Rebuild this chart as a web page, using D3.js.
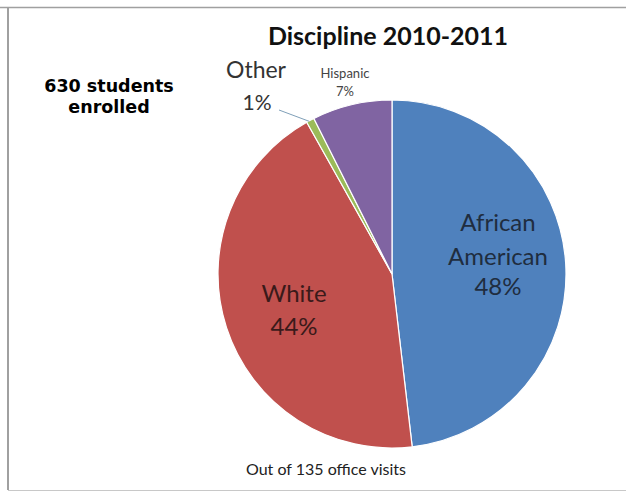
<!DOCTYPE html>
<html>
<head>
<meta charset="utf-8">
<script src="https://cdn.jsdelivr.net/npm/d3@7"></script>
<style>
  body { margin: 0; background: #fff; }
  svg text { font-family: Lato, "Open Sans", sans-serif; }
</style>
</head>
<body>
<div id="pieChart"></div>
<script>
// office visits by group, out of 135
var groups   = ["African American", "White", "Other", "Hispanic"];
var visits   = [65, 59, 1, 10];
var percents = ["48%", "44%", "1%", "7%"];
var colors   = ["#4f81bd", "#c0504d", "#9bbb59", "#8064a2"];

var width  = 626;
var height = 492;
var cx = 392, cy = 274, radius = 174;

var svg = d3.select('#pieChart')
            .append('svg')
            .attr('width', width)
            .attr('height', height);

// frame lines of the clipped screenshot
svg.append('line').attr('x1', 0).attr('x2', width).attr('y1', 7.5).attr('y2', 7.5)
   .attr('stroke', '#a0a0a0').attr('stroke-width', 1.5);
svg.append('line').attr('x1', 8).attr('x2', 8).attr('y1', 7).attr('y2', 490)
   .attr('stroke', '#a0a0a0').attr('stroke-width', 2);
svg.append('line').attr('x1', 8).attr('x2', width).attr('y1', 490.5).attr('y2', 490.5)
   .attr('stroke', '#c8c8c8').attr('stroke-width', 1);

var data = groups.map(function(g, i) {
  return { group: g, value: visits[i], pct: percents[i], color: colors[i] };
});

var pie = d3.pie()
            .sort(null)
            .value(function(d) { return d.value; });

var arc = d3.arc()
            .innerRadius(0)
            .outerRadius(radius);

var chartGroup = svg.append('g')
                    .attr('transform', 'translate(' + cx + ',' + cy + ')');

var arcs = pie(data);

chartGroup.selectAll('path')
          .data(arcs)
          .enter()
          .append('path')
          .attr('d', arc)
          .attr('fill', function(d) { return d.data.color; })
          .attr('stroke', '#fff')
          .attr('stroke-width', 1.2);

// labels inside the two big slices
var aaText = chartGroup.append('text')
  .attr('text-anchor', 'middle')
  .attr('font-size', 24)
  .attr('fill', '#1f2d3f');
[["African", 231], ["American", 265], ["48%", 295]].forEach(function(t) {
  aaText.append('tspan').attr('x', 498 - cx).attr('y', t[1] - cy).text(t[0]);
});

var whiteText = chartGroup.append('text')
  .attr('text-anchor', 'middle')
  .attr('font-size', 24)
  .attr('fill', '#3a1a1a');
[["White", 302], ["44%", 335]].forEach(function(t) {
  whiteText.append('tspan').attr('x', 294 - cx).attr('y', t[1] - cy).text(t[0]);
});

// outside labels for the small slices
var otherArc = arcs[2];
var edge = d3.arc().innerRadius(radius).outerRadius(radius).centroid(otherArc);
chartGroup.append('path')
  .attr('d', 'M' + (279 - cx) + ',' + (110 - cy) + ' L' + (edge[0] - 1) + ',' + (edge[1] + 1))
  .attr('stroke', '#7f9fb8')
  .attr('stroke-width', 1)
  .attr('fill', 'none');

svg.append('text')
   .attr('x', 256).attr('y', 78)
   .attr('text-anchor', 'middle')
   .attr('font-size', 23)
   .attr('fill', '#333')
   .text("Other");
svg.append('text')
   .attr('x', 257).attr('y', 110)
   .attr('text-anchor', 'middle')
   .attr('font-size', 21)
   .attr('fill', '#333')
   .text(percents[2]);

svg.append('text')
   .attr('x', 345).attr('y', 78)
   .attr('text-anchor', 'middle')
   .attr('font-size', 13)
   .attr('fill', '#444')
   .text("Hispanic");
svg.append('text')
   .attr('x', 345).attr('y', 96)
   .attr('text-anchor', 'middle')
   .attr('font-size', 13)
   .attr('fill', '#444')
   .text(percents[3]);

// title and notes
svg.append('text')
   .attr('x', 388).attr('y', 45)
   .attr('text-anchor', 'middle')
   .attr('font-size', 25)
   .attr('font-weight', 'bold')
   .attr('fill', '#111')
   .text("Discipline 2010-2011");

svg.append('text')
   .attr('x', 326).attr('y', 475)
   .attr('text-anchor', 'middle')
   .attr('font-size', 16)
   .attr('fill', '#222')
   .text("Out of 135 office visits");

var enrolled = svg.append('text')
   .attr('text-anchor', 'middle')
   .attr('font-size', 17.5)
   .attr('font-weight', 'bold')
   .style('font-family', '"DejaVu Sans", Verdana, sans-serif')
   .attr('fill', '#000');
enrolled.append('tspan').attr('x', 109).attr('y', 92).text("630 students");
enrolled.append('tspan').attr('x', 109).attr('y', 113).text("enrolled");
</script>
</body>
</html>
